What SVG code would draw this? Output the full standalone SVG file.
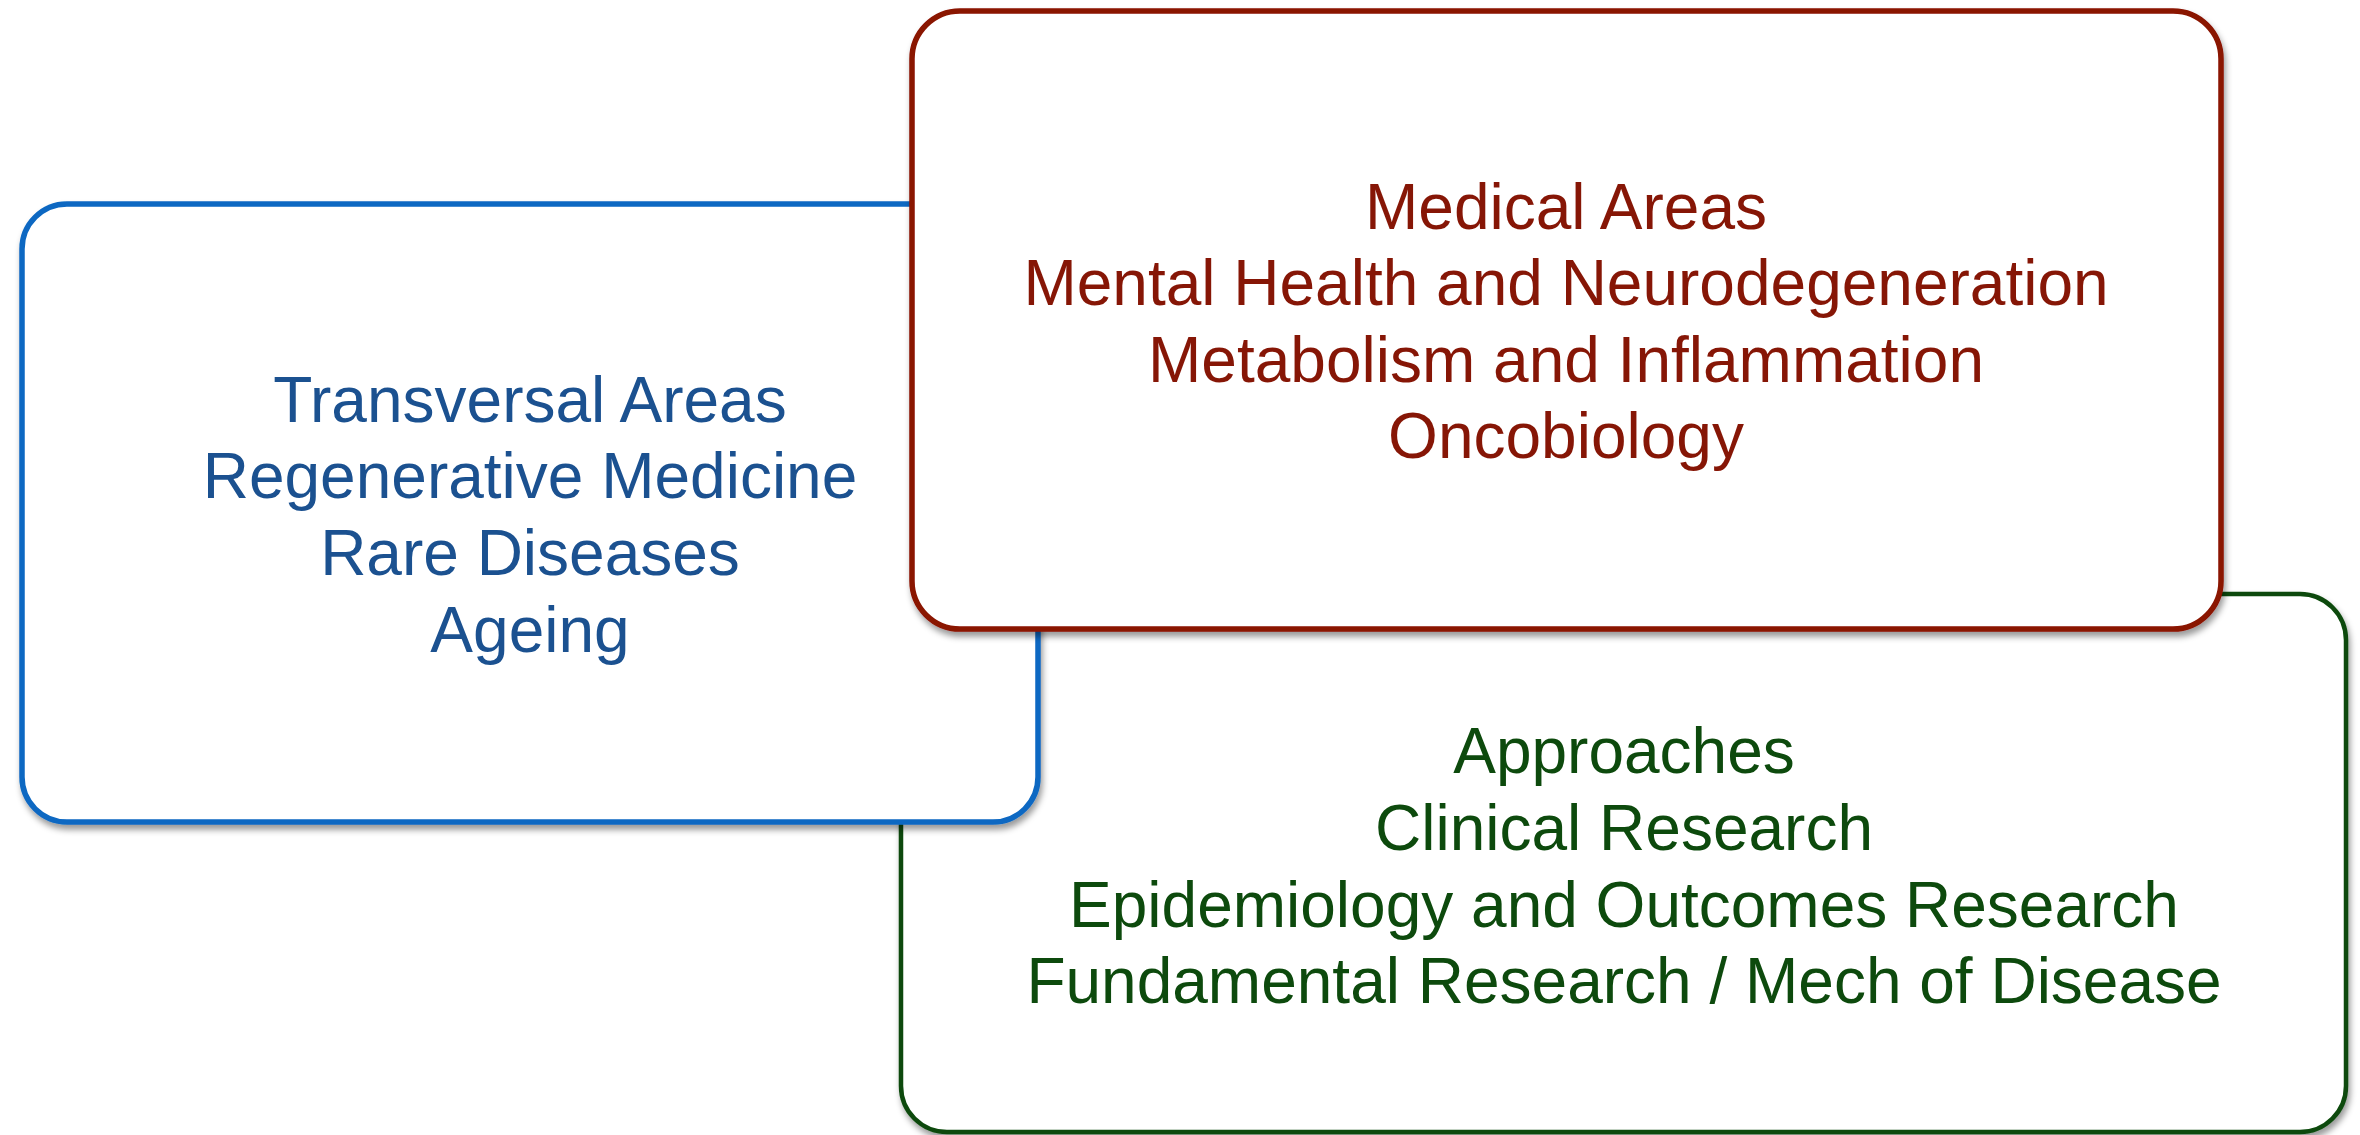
<svg xmlns="http://www.w3.org/2000/svg" width="2360" height="1135" viewBox="0 0 2360 1135">
<defs>
<filter id="sh" x="-5%" y="-5%" width="110%" height="115%">
<feDropShadow dx="2" dy="5" stdDeviation="3" flood-color="#000" flood-opacity="0.4"/>
</filter>
</defs>
<style>
.box{fill:#ffffff;filter:url(#sh)}
.t{font-family:"Liberation Sans",Arial,sans-serif;font-size:64px;text-anchor:middle}
</style>
<rect width="2360" height="1135" fill="#ffffff"/>
<g id="approaches">
<rect class="box" x="901" y="594" width="1445" height="538" rx="46" ry="46" stroke="#0b4a0b" stroke-width="4.5"/>
<text class="t" fill="#0d4a0d" x="1624" y="773">Approaches</text>
<text class="t" fill="#0d4a0d" x="1624" y="850">Clinical Research</text>
<text class="t" fill="#0d4a0d" x="1624" y="927">Epidemiology and Outcomes Research</text>
<text class="t" fill="#0d4a0d" x="1624" y="1003">Fundamental Research / Mech of Disease</text>
</g>
<g id="transversal">
<rect class="box" x="22" y="204" width="1016" height="618" rx="45" ry="45" stroke="#0b67c2" stroke-width="5.5"/>
<text class="t" fill="#1b5190" x="530" y="422">Transversal Areas</text>
<text class="t" fill="#1b5190" x="530" y="498">Regenerative Medicine</text>
<text class="t" fill="#1b5190" x="530" y="575">Rare Diseases</text>
<text class="t" fill="#1b5190" x="530" y="652">Ageing</text>
</g>
<g id="medical">
<rect class="box" x="912" y="11" width="1309" height="618" rx="48" ry="48" stroke="#8a1200" stroke-width="5.5"/>
<text class="t" fill="#861606" x="1566" y="229">Medical Areas</text>
<text class="t" fill="#861606" x="1566" y="305">Mental Health and Neurodegeneration</text>
<text class="t" fill="#861606" x="1566" y="382">Metabolism and Inflammation</text>
<text class="t" fill="#861606" x="1566" y="458">Oncobiology</text>
</g>
<g id="connectors"/>
</svg>
